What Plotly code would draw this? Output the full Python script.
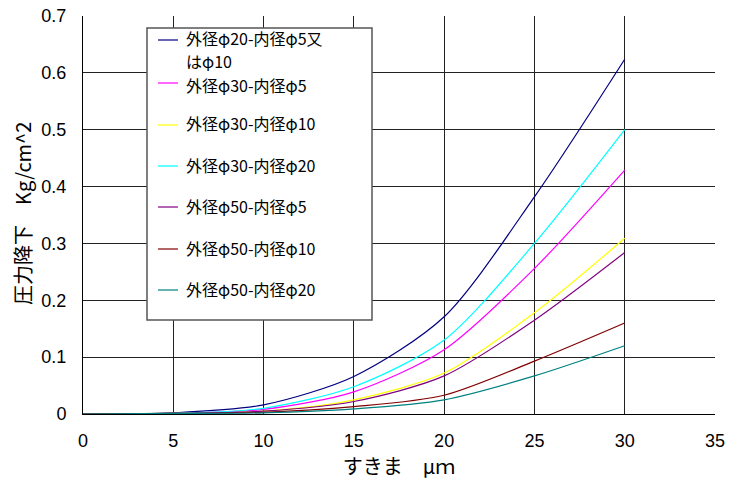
import plotly.graph_objects as go

x_gap = [0, 5, 10, 15, 20, 25, 30]

names = [
    "外径φ20-内径φ5又<br>はφ10",
    "外径φ30-内径φ5",
    "外径φ30-内径φ10",
    "外径φ30-内径φ20",
    "外径φ50-内径φ5",
    "外径φ50-内径φ10",
    "外径φ50-内径φ20",
]
colors = ["#000080", "#FF00FF", "#FFFF00", "#00FFFF", "#800080", "#800000", "#008080"]

y_20_5 = [0, 0.002, 0.016, 0.066, 0.171, 0.382, 0.624]
y_30_5 = [0, 0.001, 0.008, 0.039, 0.113, 0.256, 0.429]
y_30_10 = [0, 0.001, 0.005, 0.025, 0.072, 0.178, 0.309]
y_30_20 = [0, 0.001, 0.010, 0.048, 0.130, 0.300, 0.500]
y_50_5 = [0, 0.001, 0.005, 0.022, 0.067, 0.165, 0.284]
y_50_10 = [0, 0.001, 0.003, 0.013, 0.033, 0.093, 0.160]
y_50_20 = [0, 0.001, 0.002, 0.009, 0.025, 0.067, 0.120]
series = [y_20_5, y_30_5, y_30_10, y_30_20, y_50_5, y_50_10, y_50_20]

x_ticks = [0, 5, 10, 15, 20, 25, 30, 35]
y_ticks = [0, 0.1, 0.2, 0.3, 0.4, 0.5, 0.6, 0.7]

FONT = "Noto Sans CJK JP"
NUMFONT = "Liberation Sans"

fig = go.Figure()
for name, col, ys in zip(names, colors, series):
    fig.add_trace(go.Scatter(x=x_gap, y=ys, mode="lines", name=name,
                             line=dict(color=col, width=1.2, shape="spline", smoothing=0.8),
                             showlegend=False))

# manual legend (plot-area paper coordinates)
L, R, T, B = 83, 715, 16, 414
def px(p):
    return (p - L) / (R - L)
def py(p):
    return (B - p) / (B - T)

fig.add_shape(type="rect", xref="paper", yref="paper",
              x0=px(147), x1=px(372), y0=py(320), y1=py(28),
              line=dict(color="#555555", width=1.5), fillcolor="white", layer="above")
entry_y = [40, 83, 125, 166, 207, 249, 290]
text_y = [[37.5, 61], [84.5], [123.5], [164.5], [205.5], [247.5], [288.5]]
for name, col, ey, tys in zip(names, colors, entry_y, text_y):
    fig.add_shape(type="line", xref="paper", yref="paper",
                  x0=px(158), x1=px(178), y0=py(ey), y1=py(ey),
                  line=dict(color=col, width=1.2), layer="above")
    for part, ty in zip(name.split("<br>"), tys):
        fig.add_annotation(xref="paper", yref="paper", x=px(184), y=py(ty),
                           text=part, showarrow=False, xanchor="left", yanchor="middle",
                           align="left",
                           font=dict(family=FONT, size=16, color="#000000"))

# y-axis title as rotated annotation for exact placement
fig.add_annotation(xref="paper", yref="paper", x=px(22), y=py(214),
                   text="圧力降下　Kg/cm^2", textangle=-90, showarrow=False,
                   xanchor="center", yanchor="middle",
                   font=dict(family=FONT, size=20, color="#000000"))

fig.update_layout(
    width=737, height=480,
    margin=dict(l=L, r=737 - R, t=T, b=480 - B),
    paper_bgcolor="white", plot_bgcolor="white",
    font=dict(family=FONT, size=18, color="#000000"),
    xaxis=dict(range=[0, 35], tickvals=x_ticks, ticktext=[str(v) for v in x_ticks],
               showgrid=True, gridcolor="#222222", gridwidth=1, automargin=False,
               showline=True, linecolor="#000000", linewidth=1, zeroline=False,
               ticks="", ticklabelstandoff=10,
               title=dict(text="すきま　μｍ", font=dict(family=FONT, size=20), standoff=2),
               tickfont=dict(family=NUMFONT, size=18)),
    yaxis=dict(range=[0, 0.7], tickvals=y_ticks, ticktext=["0"] + [f"{v:.1f}" for v in y_ticks[1:]],
               showgrid=True, gridcolor="#222222", gridwidth=1, automargin=False,
               showline=True, linecolor="#000000", linewidth=1, zeroline=False,
               ticks="", ticklabelstandoff=12,
               tickfont=dict(family=NUMFONT, size=18)),
)

fig.write_html("out.html")
